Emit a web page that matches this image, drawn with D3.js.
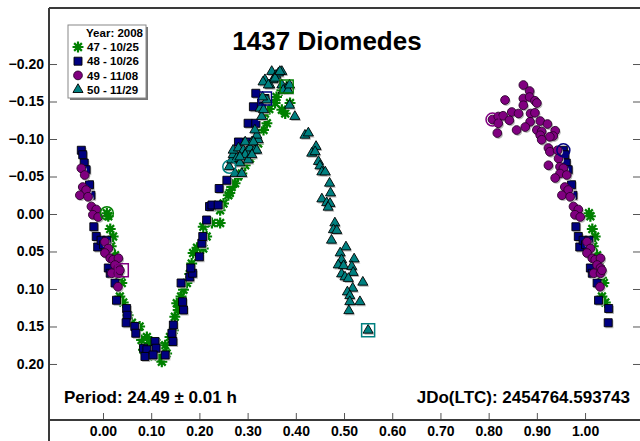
<!DOCTYPE html>
<html>
<head>
<meta charset="utf-8">
<script src="https://cdn.jsdelivr.net/npm/d3@7"></script>
<style>
  html, body { margin: 0; padding: 0; background: #fff; }
  svg { display: block; }
  text { font-family: "Liberation Sans", Arial, sans-serif; font-weight: bold; fill: #000; }
</style>
</head>
<body>
<svg id="chart" width="640" height="441"></svg>
<script>
// ---------------- data (phase, magnitude) ----------------
const title = "1437 Diomedes";
const periodText = "Period: 24.49 \u00B1 0.01 h";
const epochText = "JDo(LTC): 2454764.593743";
const legendTitle = "Year: 2008";
const sessionLabels = ["47 - 10/25", "48 - 10/26", "49 - 11/08", "50 - 11/29"];
const xTicks = [0, 0.1, 0.2, 0.3, 0.4, 0.5, 0.6, 0.7, 0.8, 0.9, 1.0];
const yTicks = [-0.20, -0.15, -0.10, -0.05, 0.00, 0.05, 0.10, 0.15, 0.20];

const s47 = [[0.008,-0.001],[0.011,0.003],[0.015,0.020],[0.021,0.030],[0.017,0.043],[0.025,0.055],[0.030,0.070],
  [0.034,0.085],[0.039,0.092],[0.035,0.110],[0.042,0.118],[0.052,0.135],[0.060,0.145],[0.070,0.155],[0.076,0.150],
  [0.080,0.168],[0.084,0.181],[0.091,0.164],[0.094,0.190],[0.098,0.172],[0.108,0.184],[0.111,0.172],[0.115,0.190],
  [0.122,0.197],[0.129,0.175],[0.132,0.186],[0.139,0.164],[0.146,0.155],[0.149,0.137],[0.153,0.119],[0.156,0.128],
  [0.162,0.110],[0.167,0.101],[0.174,0.092],[0.180,0.080],[0.184,0.066],[0.187,0.052],[0.195,0.045],[0.208,0.046],
  [0.208,0.017],[0.215,0.030],[0.226,0.012],[0.243,0.012],[0.243,-0.005],[0.250,-0.014],[0.260,-0.025],[0.263,-0.028],
  [0.267,-0.036],[0.274,-0.041],[0.280,-0.050],[0.288,-0.054],[0.295,-0.065],[0.305,-0.074],[0.315,-0.085],
  [0.322,-0.094],[0.333,-0.112],[0.340,-0.121],[0.336,-0.134],[0.345,-0.140],[0.357,-0.148],[0.360,-0.156],
  [0.371,-0.139],[0.378,-0.134],[0.388,-0.148],[0.371,-0.165],[0.381,-0.170]];

const s48 = [[0.955,-0.085],[0.958,-0.079],[0.961,-0.068],[0.965,-0.059],[0.972,-0.039],[0.975,-0.025],
  [0.981,0.017],[0.986,0.030],[0.989,0.044],[0.996,0.035],
  [0.001,0.041],[0.008,0.035],[0.011,0.072],[0.015,0.079],[0.025,0.092],[0.028,0.115],[0.049,0.126],[0.050,0.135],
  [0.048,0.145],[0.066,0.150],[0.068,0.159],[0.084,0.179],[0.091,0.181],[0.087,0.190],[0.108,0.170],[0.110,0.179],
  [0.104,0.188],[0.129,0.188],[0.146,0.148],[0.143,0.159],[0.145,0.170],[0.167,0.128],[0.165,0.117],[0.162,0.092],
  [0.180,0.084],[0.186,0.079],[0.182,0.072],[0.200,0.057],[0.205,0.039],[0.207,0.030],[0.215,0.008],[0.221,-0.010],
  [0.226,-0.012],[0.239,-0.012],[0.241,-0.034],[0.257,-0.045],[0.281,-0.096],[0.298,-0.096],[0.301,-0.121],
  [0.317,-0.121],[0.312,-0.143],[0.317,-0.161],[0.329,-0.148],[0.336,-0.154]];

const s49 = [[0.808,-0.126],[0.872,-0.172],[0.885,-0.164],[0.834,-0.152],[0.872,-0.154],[0.885,-0.156],[0.896,-0.151],
  [0.900,-0.148],[0.872,-0.145],[0.848,-0.136],[0.862,-0.134],[0.887,-0.134],[0.896,-0.135],[0.820,-0.130],
  [0.830,-0.131],[0.843,-0.125],[0.886,-0.123],[0.907,-0.124],[0.820,-0.121],[0.922,-0.120],[0.858,-0.112],
  [0.876,-0.116],[0.900,-0.112],[0.910,-0.110],[0.938,-0.111],[0.818,-0.108],[0.907,-0.105],[0.934,-0.104],
  [0.927,-0.103],[0.910,-0.099],[0.924,-0.088],[0.927,-0.083],[0.943,-0.085],[0.945,-0.074],[0.924,-0.065],
  [0.948,-0.063],[0.955,-0.061],[0.948,-0.054],[0.962,-0.052],[0.938,-0.048],[0.958,-0.036],[0.965,-0.032],
  [0.952,-0.025],[0.969,-0.023],[0.976,-0.010],[0.986,-0.006],[0.979,0.001],[0.990,0.004],
  [0.004,0.037],[0.011,0.046],[0.004,0.052],[0.015,0.059],[0.021,0.061],[0.032,0.059],[0.025,0.068],[0.032,0.072],
  [0.018,0.079],[0.032,0.079],[0.035,0.075],[0.031,0.097]];

const s50 = [[0.262,-0.063],[0.267,-0.072],[0.270,-0.079],[0.277,-0.074],[0.284,-0.068],[0.274,-0.054],[0.288,-0.054],
  [0.270,-0.085],[0.281,-0.088],[0.291,-0.085],[0.298,-0.083],[0.305,-0.088],[0.315,-0.085],[0.295,-0.079],
  [0.301,-0.072],[0.284,-0.076],[0.309,-0.096],[0.295,-0.096],[0.322,-0.099],[0.319,-0.105],[0.329,-0.130],
  [0.326,-0.141],[0.340,-0.152],[0.331,-0.156],[0.346,-0.172],[0.353,-0.179],[0.336,-0.179],[0.350,-0.190],
  [0.359,-0.185],[0.371,-0.190],[0.364,-0.188],[0.371,-0.172],[0.381,-0.168],[0.387,-0.145],[0.398,-0.130],
  [0.332,-0.176],[0.343,-0.172],[0.374,-0.165],[0.384,-0.165],[0.387,-0.172],[0.333,-0.139],[0.315,-0.112],
  [0.312,-0.096],[0.319,-0.085],[0.309,-0.079],[0.357,-0.181],[0.367,-0.190],
  [0.419,-0.105],[0.426,-0.108],[0.442,-0.090],[0.433,-0.081],[0.440,-0.083],[0.447,-0.070],[0.450,-0.064],
  [0.454,-0.056],[0.461,-0.056],[0.470,-0.041],[0.472,-0.028],[0.454,-0.020],[0.464,-0.015],[0.471,-0.014],
  [0.467,-0.009],[0.481,0.012],[0.478,0.021],[0.485,0.022],[0.474,0.035],[0.504,0.044],[0.492,0.052],
  [0.521,0.060],[0.495,0.061],[0.488,0.068],[0.499,0.069],[0.516,0.070],[0.519,0.078],[0.495,0.080],
  [0.502,0.084],[0.509,0.086],[0.539,0.091],[0.518,0.099],[0.507,0.104],[0.512,0.109],[0.512,0.117],
  [0.533,0.117],[0.510,0.129],[0.550,0.155]];

// first (circle) and last (square) observation of each session
const sessionStart = [[0.008,-0.001],[0.955,-0.085],[0.808,-0.126],[0.262,-0.063]];
const sessionEnd   = [[0.381,-0.170],[0.336,-0.154],[0.039,0.075],[0.550,0.155]];

// ---------------- drawing ----------------
const W = 640, H = 441;
const mLeft = 49, mRight = 640.5, mTop = 8, mBottom = 420;
const svg = d3.select("#chart");

const x = d3.scaleLinear().domain([-0.112, 1.115]).range([mLeft, mRight]);
const y = d3.scaleLinear().domain([-0.2747, 0.2747]).range([mTop, mBottom]);

const colors = ["#008000", "#000080", "#800080", "#008080"];
const strokes = ["none", "#000", "#2a002a", "#000"];

function wrap(arr) {
  const out = [];
  arr.forEach(([p, m]) => {
    out.push([p, m]);
    if (p < 0.05) out.push([p + 1, m]);
    if (p > 0.95) out.push([p - 1, m]);
  });
  return out;
}

const asterisk = {
  draw(ctx, size) {
    const r = Math.sqrt(size) / 2;
    for (let i = 0; i < 4; i++) {
      const a = i * Math.PI / 4;
      ctx.moveTo(-r * Math.cos(a), -r * Math.sin(a));
      ctx.lineTo(r * Math.cos(a), r * Math.sin(a));
    }
  }
};
const symbolTypes = [asterisk, d3.symbolSquare, d3.symbolCircle, d3.symbolTriangle];
const symbolSizes = [120, 64, 60, 44];

function symPath(i) { return d3.symbol().type(symbolTypes[i]).size(symbolSizes[i])(); }

// axes
const yAxisL = d3.axisLeft(y).tickValues(yTicks).tickSize(-8).tickPadding(5).tickFormat(d3.format(".2f"));
const yAxisR = d3.axisRight(y).tickValues(yTicks).tickSize(-7).tickFormat("");
const xAxis = d3.axisBottom(x).tickValues(xTicks).tickSize(-7).tickPadding(6).tickFormat(d3.format(".2f"));

function styleAxis(g) {
  g.select(".domain").remove();
  g.selectAll(".tick line").attr("stroke", "#555").attr("stroke-width", 1);
  g.selectAll(".tick text").style("font-size", "14px").style("font-weight", "bold")
    .style("font-family", '"Liberation Sans", Arial, sans-serif').attr("fill", "#000");
}
svg.append("g").attr("transform", `translate(${mLeft},0)`).call(yAxisL).call(styleAxis);
svg.append("g").attr("transform", `translate(${W},0)`).call(yAxisR).call(styleAxis);
svg.append("g").attr("transform", `translate(0,${mBottom})`).call(xAxis).call(styleAxis);

// frame
const frame = svg.append("g").attr("stroke", "#3a3a3a").attr("stroke-width", 2).attr("fill", "none");
frame.append("line").attr("x1", mLeft).attr("x2", mLeft).attr("y1", mTop).attr("y2", H);
frame.append("line").attr("x1", mLeft).attr("x2", W).attr("y1", mTop).attr("y2", mTop);
frame.append("line").attr("x1", mLeft).attr("x2", W).attr("y1", mBottom).attr("y2", mBottom);

// data points
const series = [s47, s48, s49, s50];
series.forEach((s, i) => {
  const pts = wrap(s).filter(d => d[0] >= -0.06 && d[0] <= 1.06);
  const g = svg.append("g");
  if (i > 0) {
    g.selectAll("path.sh").data(pts).join("path").attr("class", "sh")
      .attr("d", symPath(i))
      .attr("transform", d => `translate(${x(d[0]) + 1.2},${y(d[1]) + 1.5})`)
      .attr("fill", "#b8b8b8");
  }
  g.selectAll("path.pt").data(pts).join("path").attr("class", "pt")
    .attr("d", symPath(i))
    .attr("transform", d => `translate(${x(d[0])},${y(d[1])})`)
    .attr("fill", i === 0 ? "none" : colors[i])
    .attr("stroke", i === 0 ? colors[i] : strokes[i])
    .attr("stroke-width", i === 0 ? 2.2 : 0.9);
});

// session start / end markers
svg.append("g").selectAll("circle").data(sessionStart).join("circle")
  .attr("cx", d => x(d[0])).attr("cy", d => y(d[1])).attr("r", 6.5)
  .attr("fill", "none").attr("stroke", (d, i) => colors[i]).attr("stroke-width", 1.5);
svg.append("g").selectAll("rect").data(sessionEnd).join("rect")
  .attr("x", d => x(d[0]) - 6.5).attr("y", d => y(d[1]) - 6.5).attr("width", 13).attr("height", 13)
  .attr("fill", "none").attr("stroke", (d, i) => colors[i]).attr("stroke-width", 1.5);

// title and notes
svg.append("text").attr("x", 327).attr("y", 50).attr("text-anchor", "middle")
  .style("font-size", "26px").text(title);
svg.append("text").attr("x", 64).attr("y", 403).style("font-size", "17px").text(periodText);
svg.append("text").attr("x", 630).attr("y", 403).attr("text-anchor", "end").style("font-size", "17px").text(epochText);

// legend
const lg = svg.append("g");
lg.append("rect").attr("x", 70).attr("y", 27).attr("width", 78).attr("height", 73).attr("fill", "#777");
lg.append("rect").attr("x", 68).attr("y", 25).attr("width", 78).attr("height", 73)
  .attr("fill", "#fff").attr("stroke", "#888").attr("stroke-width", 1);
lg.append("text").attr("x", 143).attr("y", 37).attr("text-anchor", "end").style("font-size", "11.5px").text(legendTitle);
sessionLabels.forEach((lab, i) => {
  const cy = 47 + i * 14.2;
  lg.append("path").attr("d", symPath(i)).attr("transform", `translate(78,${cy})`)
    .attr("fill", i === 0 ? "none" : colors[i])
    .attr("stroke", i === 0 ? colors[i] : strokes[i])
    .attr("stroke-width", i === 0 ? 2.2 : 0.9);
  lg.append("text").attr("x", 87).attr("y", cy + 4.2).style("font-size", "11.5px").text(lab);
});
</script>
</body>
</html>
